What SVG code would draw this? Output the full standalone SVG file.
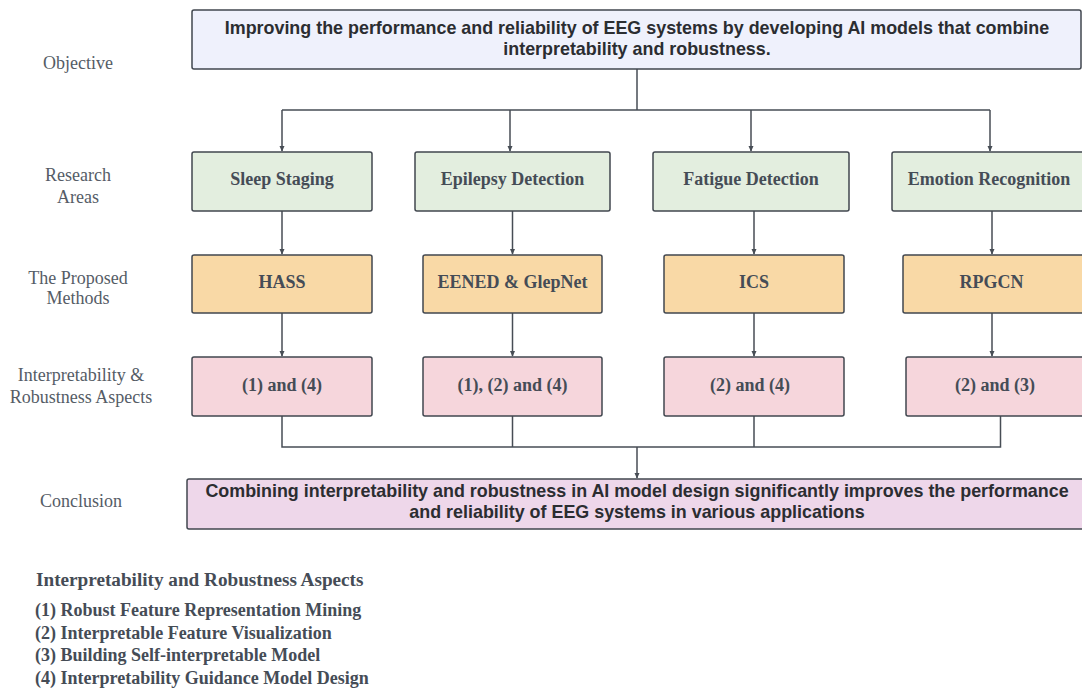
<svg xmlns="http://www.w3.org/2000/svg" width="1082" height="688" viewBox="0 0 1082 688">
<style>
.box{stroke:#41474f;stroke-width:1.5}
.obj{fill:#eff1fc}
.area{fill:#e3eedf}
.meth{fill:#f9d9a6}
.asp{fill:#f6d6dc}
.conc{fill:#eed7ea}
.nt{font-family:"Liberation Serif","Times New Roman",serif;font-weight:bold;font-size:18px;fill:#454c56;text-anchor:middle}
.bt{font-family:"Liberation Sans",Arial,sans-serif;font-weight:bold;font-size:17.9px;fill:#2b2d31;text-anchor:middle}
.side{font-family:"Liberation Serif","Times New Roman",serif;font-size:18px;fill:#555c66;text-anchor:middle}
.leg{font-family:"Liberation Serif","Times New Roman",serif;font-weight:bold;font-size:18px;fill:#454c56}
.legt{font-size:19.2px}
.ln{fill:none;stroke:#474d55;stroke-width:1.5}
</style>
<defs>
<marker id="arr" viewBox="0 0 8 8" refX="7" refY="4" markerWidth="6" markerHeight="6" orient="auto" markerUnits="userSpaceOnUse">
<path d="M0,0.5 L8,4 L0,7.5 z" fill="#474d55"/>
</marker>
</defs>

<g id="side-labels">
<text class="side" x="78" y="69">Objective</text>
<text class="side" x="78" y="181">Research</text>
<text class="side" x="78" y="203">Areas</text>
<text class="side" x="78" y="284">The Proposed</text>
<text class="side" x="78" y="304">Methods</text>
<text class="side" x="81" y="381">Interpretability &amp;</text>
<text class="side" x="81" y="403">Robustness Aspects</text>
<text class="side" x="81" y="507">Conclusion</text>
</g>

<g id="connectors">
<path class="ln" d="M637,69 V110 M282,110 H990"/>
<path class="ln" d="M282,110 V151" marker-end="url(#arr)"/>
<path class="ln" d="M510,110 V151" marker-end="url(#arr)"/>
<path class="ln" d="M751,110 V151" marker-end="url(#arr)"/>
<path class="ln" d="M990,110 V151" marker-end="url(#arr)"/>
<path class="ln" d="M282,211 V254" marker-end="url(#arr)"/>
<path class="ln" d="M512.5,211 V254" marker-end="url(#arr)"/>
<path class="ln" d="M754,211 V254" marker-end="url(#arr)"/>
<path class="ln" d="M992,211 V254" marker-end="url(#arr)"/>
<path class="ln" d="M282,313 V356" marker-end="url(#arr)"/>
<path class="ln" d="M512.5,313 V356" marker-end="url(#arr)"/>
<path class="ln" d="M754,313 V356" marker-end="url(#arr)"/>
<path class="ln" d="M992,313 V356" marker-end="url(#arr)"/>
<path class="ln" d="M282,416 V447 H1000.5 V416 M512.5,416 V447 M754,416 V447"/>
<path class="ln" d="M637,447 V478" marker-end="url(#arr)"/>
</g>

<g id="objective">
<rect class="box obj" x="192" y="10" width="889" height="59" rx="2"/>
<text class="bt" x="637" y="34">Improving the performance and reliability of EEG systems by developing AI models that combine</text>
<text class="bt" x="637" y="55">interpretability and robustness.</text>
</g>

<g id="sleep-staging"><rect class="box area" x="192" y="152" width="180" height="59" rx="2"/><text class="nt" x="282" y="185">Sleep Staging</text></g>
<g id="epilepsy-detection"><rect class="box area" x="415" y="152" width="195" height="59" rx="2"/><text class="nt" x="512.5" y="185">Epilepsy Detection</text></g>
<g id="fatigue-detection"><rect class="box area" x="653" y="152" width="196" height="59" rx="2"/><text class="nt" x="751" y="185">Fatigue Detection</text></g>
<g id="emotion-recognition"><rect class="box area" x="892" y="152" width="196" height="59" rx="2"/><text class="nt" x="989" y="185">Emotion Recognition</text></g>

<g id="hass"><rect class="box meth" x="192" y="255" width="180" height="58" rx="2"/><text class="nt" x="282" y="288">HASS</text></g>
<g id="eened-glepnet"><rect class="box meth" x="423" y="255" width="179" height="58" rx="2"/><text class="nt" x="512.5" y="288">EENED &amp; GlepNet</text></g>
<g id="ics"><rect class="box meth" x="664" y="255" width="180" height="58" rx="2"/><text class="nt" x="754" y="288">ICS</text></g>
<g id="rpgcn"><rect class="box meth" x="903" y="255" width="185" height="58" rx="2"/><text class="nt" x="991.5" y="288">RPGCN</text></g>

<g id="aspects-hass"><rect class="box asp" x="192" y="357" width="180" height="59" rx="2"/><text class="nt" x="282" y="391">(1) and (4)</text></g>
<g id="aspects-eened"><rect class="box asp" x="423" y="357" width="179" height="59" rx="2"/><text class="nt" x="512.5" y="391">(1), (2) and (4)</text></g>
<g id="aspects-ics"><rect class="box asp" x="664" y="357" width="180" height="59" rx="2"/><text class="nt" x="750" y="391">(2) and (4)</text></g>
<g id="aspects-rpgcn"><rect class="box asp" x="906" y="357" width="182" height="59" rx="2"/><text class="nt" x="995" y="391">(2) and (3)</text></g>

<g id="conclusion">
<rect class="box conc" x="187" y="479" width="901" height="50" rx="2"/>
<text class="bt" x="637" y="497">Combining interpretability and robustness in AI model design significantly improves the performance</text>
<text class="bt" x="637" y="518">and reliability of EEG systems in various applications</text>
</g>

<g id="legend">
<text class="leg legt" x="36" y="586">Interpretability and Robustness Aspects</text>
<text class="leg" x="35" y="616">(1) Robust Feature Representation Mining</text>
<text class="leg" x="35" y="639">(2) Interpretable Feature Visualization</text>
<text class="leg" x="35" y="661">(3) Building Self-interpretable Model</text>
<text class="leg" x="35" y="684">(4) Interpretability Guidance Model Design</text>
</g>
</svg>
